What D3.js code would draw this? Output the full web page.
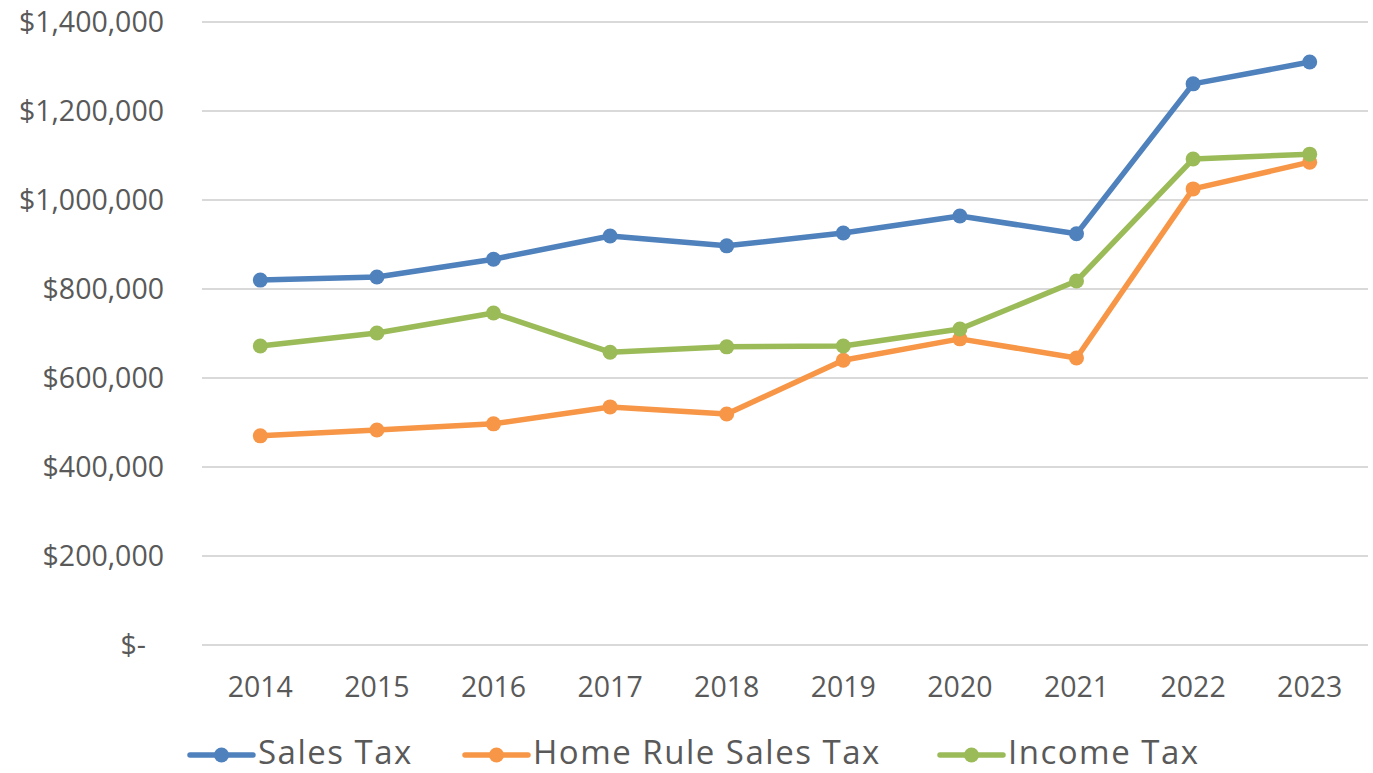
<!DOCTYPE html>
<html><head><meta charset="utf-8">
<script src="https://cdn.jsdelivr.net/npm/d3@7"></script>
<style>body{margin:0;background:#fff}svg{display:block}</style>
</head><body>
<svg id="c" width="1373" height="773"></svg>
<script>
const years = ["2014","2015","2016","2017","2018","2019","2020","2021","2022","2023"];
const salesTax = [820000, 827000, 867000, 919000, 897000, 926000, 964000, 924000, 1261000, 1310000];
const homeRuleSalesTax = [470000, 483000, 497000, 535000, 519000, 640000, 688000, 645000, 1025000, 1085000];
const incomeTax = [672000, 701000, 746000, 658000, 670000, 672000, 710000, 818000, 1092000, 1103000];
const yTicks = [0, 200000, 400000, 600000, 800000, 1000000, 1200000, 1400000];
const seriesNames = ["Sales Tax", "Home Rule Sales Tax", "Income Tax"];
const seriesColors = ["#4f81bd", "#f79646", "#9bbb59"];

(function(){
const series = [salesTax, homeRuleSalesTax, incomeTax].map((v,i)=>({name:seriesNames[i], color:seriesColors[i], values:v}));
const svg = d3.select("#c");
const font = "'Open Sans', sans-serif";
const pl = 202, pr = 1368, pt = 22, pb = 645;
const x = d3.scaleBand().domain(years).range([pl, pr]);
const y = d3.scaleLinear().domain([0, 1400000]).range([pb, pt]);

svg.append("g").selectAll("line").data(yTicks).join("line")
  .attr("x1", pl).attr("x2", pr)
  .attr("y1", d=>y(d)).attr("y2", d=>y(d))
  .attr("stroke", "#d9d9d9").attr("stroke-width", 2);

const fmt = d => d === 0 ? "$-" : "$" + d3.format(",")(d);
svg.append("g").selectAll("text").data(yTicks).join("text")
  .attr("x", d => d===0 ? 146 : 164).attr("y", d=>y(d)).attr("dy", "0.35em")
  .attr("text-anchor", "end").attr("font-family", font).attr("font-size", 28.5)
  .attr("fill", "#595959").text(fmt);

svg.append("g").selectAll("text").data(years).join("text")
  .attr("x", d=>x(d)+x.bandwidth()/2).attr("y", 687).attr("dy","0.35em")
  .attr("text-anchor","middle").attr("font-family", font).attr("font-size", 28.5)
  .attr("fill","#595959").text(d=>d);

const line = d3.line().x((d,i)=>x(years[i])+x.bandwidth()/2).y(d=>y(d));
series.forEach(s=>{
  svg.append("path").attr("d", line(s.values)).attr("fill","none")
    .attr("stroke", s.color).attr("stroke-width", 5.5).attr("stroke-linejoin","round").attr("stroke-linecap","round");
  svg.append("g").selectAll("circle").data(s.values).join("circle")
    .attr("cx",(d,i)=>x(years[i])+x.bandwidth()/2).attr("cy", d=>y(d)).attr("r", 7.5)
    .attr("fill", s.color);
});

const legendX = [190, 465, 940];
const ly = 755;
series.forEach((s,i)=>{
  const g = svg.append("g").attr("transform", `translate(${legendX[i]},${ly})`);
  g.append("line").attr("x1",0).attr("x2",63).attr("y1",0).attr("y2",0)
    .attr("stroke", s.color).attr("stroke-width",5.5).attr("stroke-linecap","round");
  g.append("circle").attr("cx",31.5).attr("cy",0).attr("r",7.5).attr("fill",s.color);
  g.append("text").attr("x",68).attr("y",9)
    .attr("font-family", font).attr("font-size", 33).attr("letter-spacing", 1.5)
    .attr("fill","#595959").text(s.name);
});
})();
</script>
</body></html>
